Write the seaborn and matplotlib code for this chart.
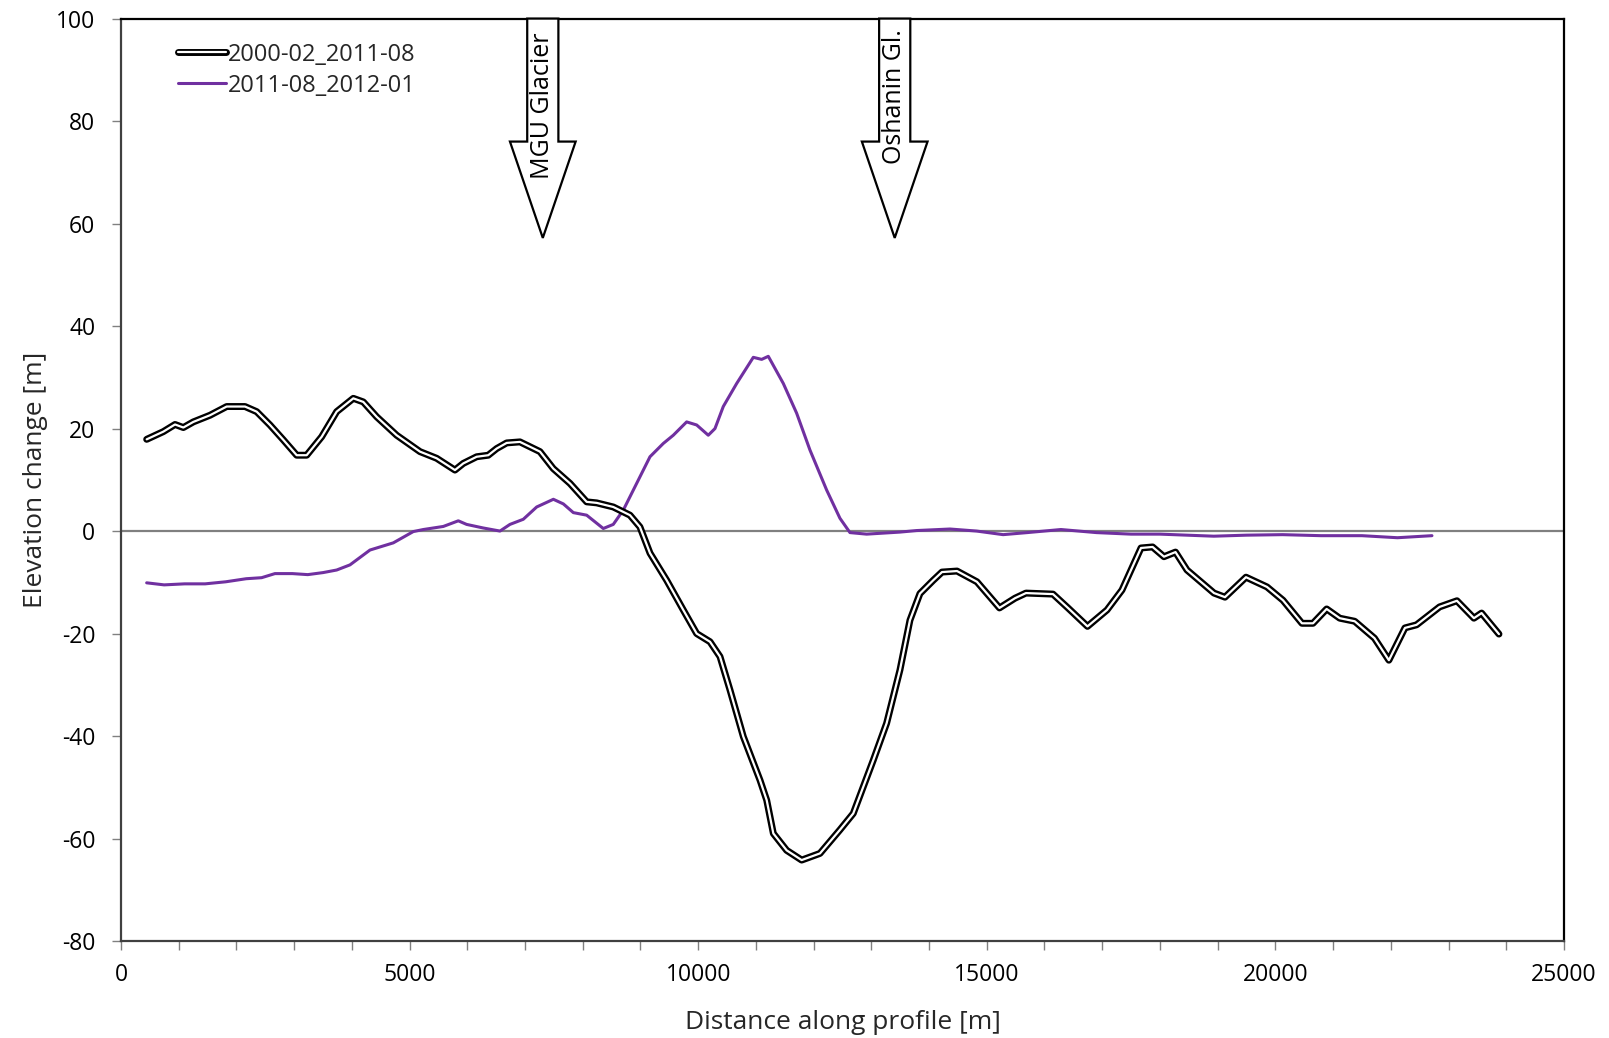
import numpy as np
import pandas as pd
import matplotlib
matplotlib.use("Agg")
import matplotlib.pyplot as plt
import matplotlib.patheffects as pe
from matplotlib.patches import FancyArrow
from matplotlib.ticker import MultipleLocator
import seaborn as sns

# profile 2000-02 to 2011-08
dist_a = [445, 733, 936, 1080, 1253, 1542, 1831, 2148, 2351, 2581, 2812, 3044, 3217, 3477,
          3737, 4025, 4198, 4430, 4776, 5180, 5469, 5786, 5930, 6162, 6363, 6509, 6682, 6912,
          7259, 7489, 7779, 8068, 8241, 8529, 8818, 8991, 9165, 9454, 9742, 9974, 10205, 10378,
          10551, 10782, 11071, 11187, 11302, 11533, 11793, 12110, 12456, 12687, 13034, 13265,
          13496, 13669, 13842, 14073, 14224, 14484, 14830, 15220, 15489, 15679, 16147, 16407,
          16745, 17083, 17343, 17672, 17873, 18070, 18270, 18469, 18937, 19127, 19491, 19855,
          20132, 20461, 20652, 20889, 21115, 21375, 21717, 21967, 22245, 22446, 22845, 23146,
          23440, 23573, 23874]
dh_a = [17.9, 19.4, 20.8, 20.2, 21.3, 22.6, 24.3, 24.3, 23.3, 20.7, 17.8, 14.8, 14.8, 18.4,
        23.3, 25.9, 25.2, 22.3, 18.7, 15.5, 14.2, 11.9, 13.2, 14.5, 14.8, 16.1, 17.2, 17.4,
        15.5, 12.2, 9.3, 5.7, 5.5, 4.7, 3.1, 0.8, -4.3, -9.6, -15.4, -20.0, -21.6, -24.5,
        -31.0, -40.1, -48.6, -52.5, -59.0, -62.3, -64.2, -62.9, -58.3, -55.1, -44.7, -37.5,
        -27.1, -17.4, -12.2, -9.6, -8.0, -7.8, -9.9, -15.0, -13.1, -12.1, -12.3, -15.0,
        -18.6, -15.4, -11.5, -3.3, -3.1, -5.0, -4.1, -7.6, -12.1, -12.9, -9.0, -10.9,
        -13.5, -18.0, -18.0, -15.2, -17.0, -17.6, -20.9, -25.2, -18.9, -18.3, -14.8, -13.6,
        -17.0, -16.0, -20.1]

# profile 2011-08 to 2012-01
dist_b = [445, 747, 1103, 1458, 1814, 2169, 2436, 2667, 2969, 3236, 3503, 3737, 3967, 4314,
          4718, 5064, 5237, 5584, 5844, 5988, 6277, 6566, 6739, 6970, 7202, 7491, 7664, 7837,
          8068, 8356, 8529, 8703, 8934, 9165, 9396, 9569, 9800, 9974, 10175, 10291, 10435,
          10667, 10955, 11100, 11215, 11475, 11706, 11937, 12226, 12456, 12630, 12919, 13496,
          13785, 14363, 14825, 15283, 15700, 16285, 16900, 17500, 18000, 18933, 19500, 20126,
          20790, 21500, 22115, 22713]
dh_b = [-10.1, -10.5, -10.3, -10.3, -9.9, -9.3, -9.1, -8.3, -8.3, -8.5, -8.1, -7.6, -6.6, -3.7,
        -2.3, -0.1, 0.3, 0.9, 2.0, 1.3, 0.6, 0.0, 1.3, 2.3, 4.7, 6.2, 5.3, 3.6,
        3.1, 0.5, 1.3, 4.1, 9.3, 14.5, 17.1, 18.7, 21.3, 20.7, 18.7, 20.0, 24.3,
        28.8, 33.9, 33.5, 34.1, 28.8, 23.0, 15.8, 8.0, 2.5, -0.3, -0.6, -0.2,
        0.1, 0.4, 0.0, -0.7, -0.3, 0.3, -0.3, -0.6, -0.6, -1.0, -0.8, -0.7,
        -0.9, -0.9, -1.3, -0.9]

# glacier markers
glacier_names = ["MGU Glacier", "Oshanin Gl."]
glacier_x = [7308, 13405]
glacier_text_y = [83.0, 84.8]

sns.set_theme(style="white")
plt.rcParams['font.family'] = ['Open Sans', 'DejaVu Sans']
plt.rcParams['axes.unicode_minus'] = False

fig = plt.figure(figsize=(16.09, 10.38), dpi=100)
ax = fig.add_axes([0.0752, 0.0934, 0.8968, 0.8887])

df_a = pd.DataFrame({'dist': dist_a, 'dh': dh_a})
df_b = pd.DataFrame({'dist': dist_b, 'dh': dh_b})

ax.axhline(0, color='#808080', lw=1.6, zorder=1)

sns.lineplot(data=df_a, x='dist', y='dh', ax=ax, color='white', lw=1.6, sort=False,
             label='2000-02_2011-08', zorder=3, solid_joinstyle='round',
             solid_capstyle='round',
             path_effects=[pe.Stroke(linewidth=5, foreground='black', joinstyle='round',
                                     capstyle='round'), pe.Normal()])
sns.lineplot(data=df_b, x='dist', y='dh', ax=ax, color='#7030A0', lw=2.2, sort=False,
             label='2011-08_2012-01', zorder=2, solid_joinstyle='round')

# arrows for glaciers
for name, gx, ty in zip(glacier_names, glacier_x, glacier_text_y):
    arr = FancyArrow(gx, 100, 0, -42.8, width=540, head_width=1138, head_length=18.8,
                     length_includes_head=True, facecolor='white', edgecolor='black',
                     lw=1.6, zorder=4, clip_on=False)
    ax.add_patch(arr)
    ax.text(gx, ty, name, rotation=90, ha='center', va='center', fontsize=18,
            color='black', zorder=5)

ax.set_xlim(0, 25000)
ax.set_ylim(-80, 100)
ax.xaxis.set_major_locator(MultipleLocator(5000))
ax.xaxis.set_minor_locator(MultipleLocator(1000))
ax.yaxis.set_major_locator(MultipleLocator(20))

ax.tick_params(axis='both', which='both', direction='out', length=6.5, width=1,
               color='#808080', labelsize=16.5, labelcolor='black')
ax.tick_params(axis='x', which='both', bottom=True, pad=9)
ax.tick_params(axis='y', which='major', left=True, pad=12)

for side in ['top', 'right']:
    ax.spines[side].set_color('black')
    ax.spines[side].set_linewidth(1.6)
for side in ['left', 'bottom']:
    ax.spines[side].set_color('#404040')
    ax.spines[side].set_linewidth(1.6)

ax.set_xlabel('Distance along profile [m]', fontsize=19, labelpad=17)
ax.set_ylabel('Elevation change [m]', fontsize=19, labelpad=6)

leg = ax.legend(loc='upper left', bbox_to_anchor=(0.025, 0.997), frameon=False, fontsize=17,
                handlelength=2.0, handletextpad=0.1, labelspacing=0.3)

fig.savefig('out.png', dpi=100, facecolor='white')
